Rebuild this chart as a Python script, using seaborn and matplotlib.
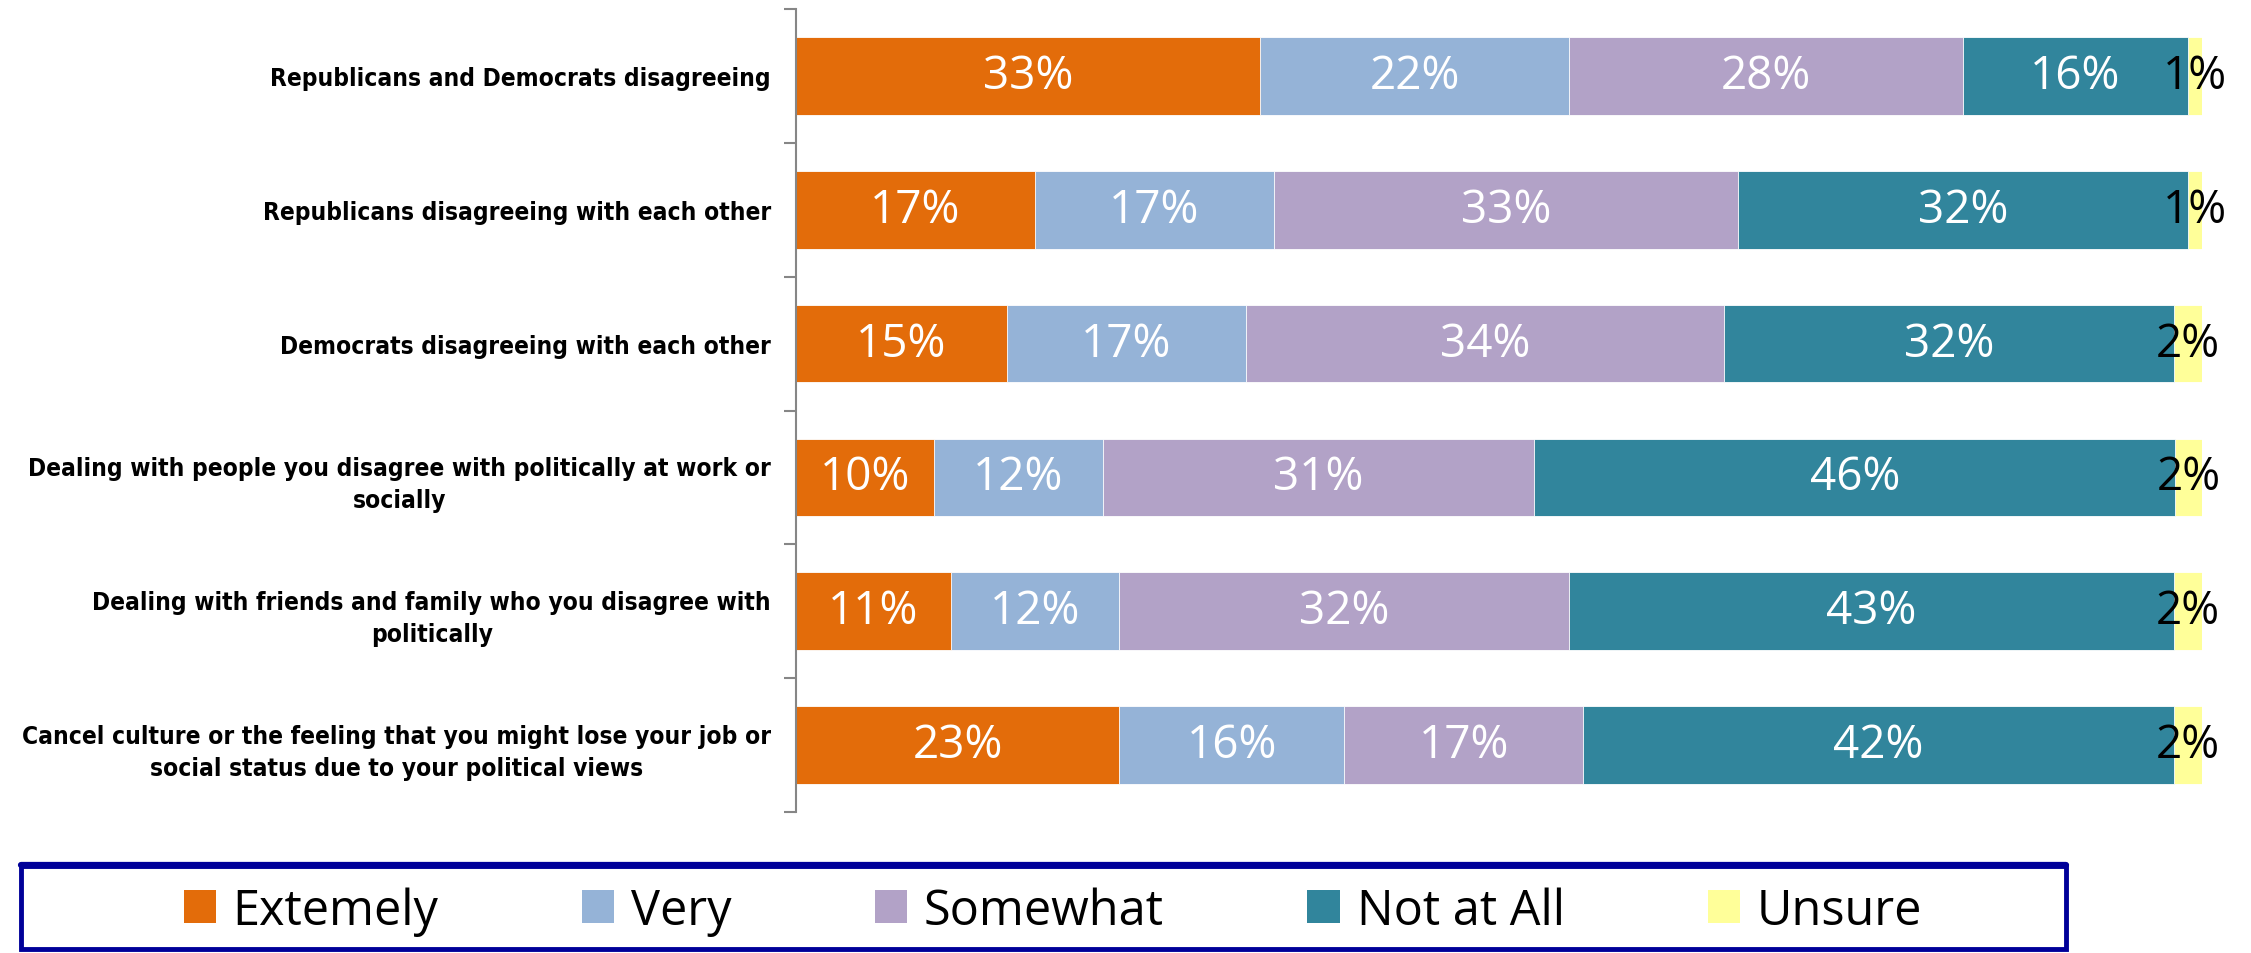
import numpy as np
import pandas as pd
import seaborn as sns
import matplotlib.pyplot as plt
from matplotlib import font_manager
from matplotlib.patches import Patch, Rectangle
from matplotlib.lines import Line2D

# veriler (yüzde)
questions = [
    "Republicans and Democrats disagreeing",
    "Republicans disagreeing with each other",
    "Democrats disagreeing with each other",
    "Dealing with people you disagree with politically at work or\nsocially",
    "Dealing with friends and family who you disagree with\npolitically",
    "Cancel culture or the feeling that you might lose your job or\nsocial status due to your political views",
]
levels = ["Extemely", "Very", "Somewhat", "Not at All", "Unsure"]
extremely = [33, 17, 15, 9.8, 11, 23]
very = [22, 17, 17, 12, 12, 16]
somewhat = [28, 33, 34, 30.7, 32, 17]
not_at_all = [16, 32, 32, 45.6, 43, 42]
unsure = [1, 1, 2, 1.9, 2, 2]
colors = ["#E36C0A", "#95B3D7", "#B2A2C7", "#31859C", "#FFFF99"]

sns.set_theme(style="white")
plt.rcParams["font.family"] = ["Open Sans", "DejaVu Sans"]
plt.rcParams["text.color"] = "black"
plt.rcParams["ytick.color"] = "black"

df = pd.DataFrame({"question": questions, "Extemely": extremely, "Very": very,
                   "Somewhat": somewhat, "Not at All": not_at_all, "Unsure": unsure})
cum = df[levels].cumsum(axis=1)

fig = plt.figure(figsize=(22.51, 9.54), dpi=100)
ax = fig.add_axes([796 / 2251, 1 - 813 / 954, 1406 / 2251, 803 / 954])

# yığılmış çubuk: en büyük kümülatiften başlayıp üst üste çiz
for lev, col in reversed(list(zip(levels, colors))):
    sns.barplot(data=cum.assign(question=questions), x=lev, y="question", order=questions,
                color=col, width=0.58, orient="h", ax=ax, saturation=1,
                edgecolor="white", linewidth=0.6)

# etiketler
for i in range(len(questions)):
    left = 0
    for j, lev in enumerate(levels):
        v = df.loc[i, lev]
        txtcol = "black" if lev == "Unsure" else "white"
        ax.text(left + v / 2, i, f"{v:.0f}%", ha="center", va="center",
                color=txtcol, fontsize=33)
        left += v

ax.set_xlim(0, 100)
ax.set_ylim(5.5, -0.5)
ax.set_xlabel("")
ax.set_ylabel("")
ax.set_xticks([])

# dar (condensed) kalın yazı tipi varsa onu kullan
label_family = ["DejaVu Sans"]
for fam in ["Liberation Sans Narrow", "DejaVu Sans"]:
    try:
        fp = font_manager.FontProperties(family=fam, weight="bold", stretch="condensed")
        path = font_manager.findfont(fp, fallback_to_default=False)
    except Exception:
        continue
    if "Narrow" in path or "Condensed" in path:
        label_family = [fam]
        break

ax.set_yticks(range(len(questions)))
ax.set_yticklabels(questions, family=label_family + ["DejaVu Sans"], fontweight="bold",
                   fontstretch="condensed", fontsize=20, multialignment="center",
                   color="black", linespacing=1.45)
ax.tick_params(axis="y", which="major", length=0, pad=18)

# ilk etiketin genişliğini referansa (~499 px) göre ayarla
fig.canvas.draw()
w = ax.get_yticklabels()[0].get_window_extent().width
new_size = 20 * 499 / w
for t in ax.get_yticklabels():
    t.set_fontsize(new_size)

ax.set_yticks(np.arange(-0.5, len(questions)), minor=True)
ax.tick_params(axis="y", which="minor", length=9, width=1.5, color="#868686", left=True)
for s in ["top", "right", "bottom"]:
    ax.spines[s].set_visible(False)
ax.spines["left"].set_color("#868686")
ax.spines["left"].set_linewidth(1.5)

# lejant kutusu (üst kenarı daha kalın)
box = Rectangle((21 / 2251, 4 / 954), 2045 / 2251, 83 / 954,
                transform=fig.transFigure, fill=False, edgecolor="#000099", linewidth=3.5)
fig.patches.append(box)
fig.lines.append(Line2D([21 / 2251, 2066 / 2251], [88 / 954, 88 / 954],
                        transform=fig.transFigure, color="#000099", linewidth=4.5))
handles = [Patch(facecolor=c, edgecolor="none") for c in colors]
fig.legend(handles, levels, loc="center", bbox_to_anchor=(1053 / 2251, 1 - 912 / 954),
           ncol=5, frameon=False, fontsize=35, handlelength=0.66, handleheight=0.65,
           handletextpad=0.35, columnspacing=2.95, labelcolor="black")

fig.savefig("out.png", dpi=100)
